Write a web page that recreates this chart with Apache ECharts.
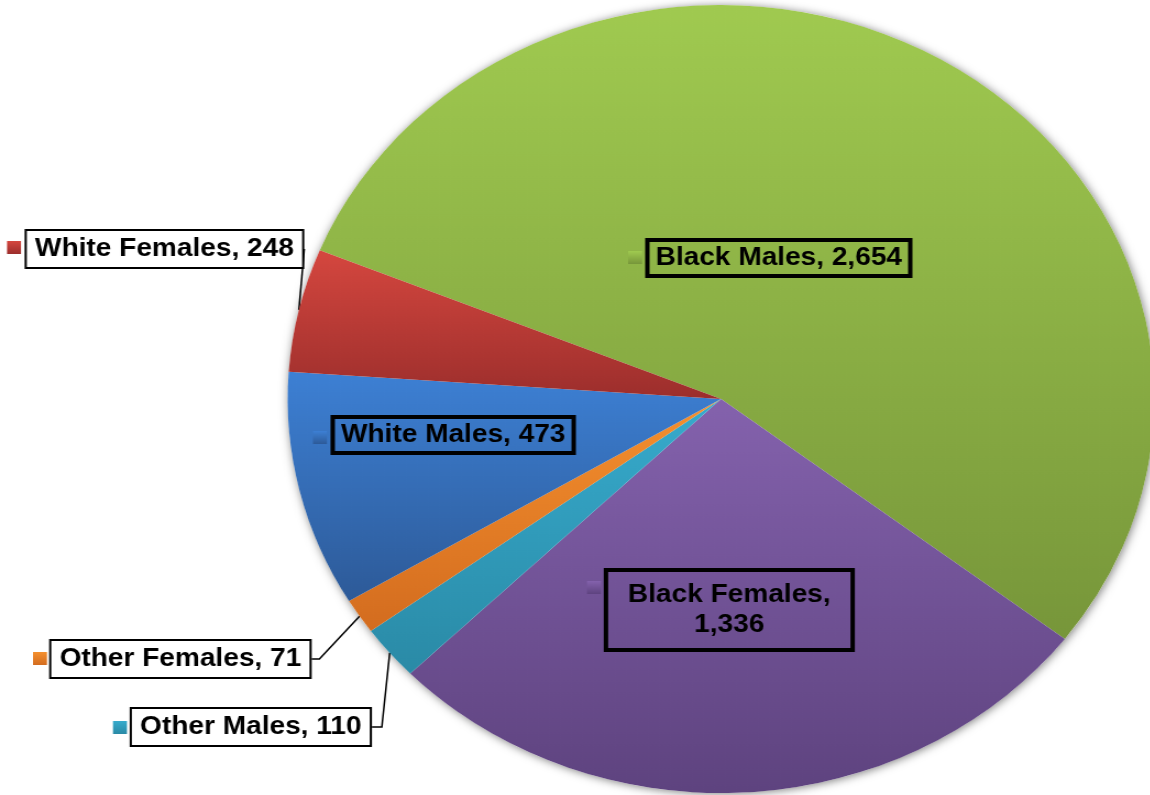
<!DOCTYPE html>
<html>
<head>
<meta charset="utf-8">
<script src="https://cdn.jsdelivr.net/npm/echarts@6/dist/echarts.min.js"></script>
<style>
  html, body { margin: 0; padding: 0; background: #ffffff; overflow: hidden; }
  /* the chart is drawn a little narrower and stretched sideways, so the pie reads as a wide oval */
  #chart { width: 1046px; height: 795px; transform: scaleX(1.1); transform-origin: 0 0; }
</style>
</head>
<body>
<div id="chart"></div>
<script>
// ---- data ----
const categories = ['Black Males', 'Black Females', 'Other Males', 'Other Females', 'White Males', 'White Females'];
const counts = [2654, 1336, 110, 71, 473, 248];

// ---- styling ----
const sliceTop    = ['#a0ca50', '#8462ad', '#37abcd', '#f5902e', '#3d80d4', '#d5473f'];
const sliceBottom = ['#77963a', '#5e437f', '#2a8aa6', '#d36c1f', '#2d5a98', '#9c2e2c'];
const boxFill     = ['transparent', 'transparent', '#ffffff', '#ffffff', 'transparent', '#ffffff'];
const twoLine     = [false, true, false, false, false, false];
const leaderTail  = [null, null, 9, 7, null, 0];   // null: no leader line

// ---- label placement (box centre x / top y, key left x / top y) ----
const boxAt = [[708, 240], [663, 570], [228, 709], [164, 641], [412, 417], [149.5, 231]];
const keyAt = [[571, 251], [533.6, 581], [102.7, 721], [30, 652], [284.5, 431], [6.4, 241]];

const PIE_CENTER = [655.5, 399];
const PIE_RADIUS = 394;
const START_ANGLE = 157.8;
const FONT = '"Liberation Sans", Arial, Helvetica, sans-serif';

function grad(top, bottom) {
  return new echarts.graphic.LinearGradient(0, 0, 0, 1, [
    { offset: 0, color: top },
    { offset: 1, color: bottom }
  ]);
}

function fmtNum(v) {
  return Number(v).toLocaleString('en-US');
}

const sliceData = categories.map((name, i) => ({
  name: name,
  value: counts[i],
  itemStyle: { color: grad(sliceTop[i], sliceBottom[i]) },
  label: twoLine[i]
    ? { backgroundColor: boxFill[i], padding: [10, 20], lineHeight: 30 }
    : { backgroundColor: boxFill[i] },
  labelLine: leaderTail[i] === null
    ? { show: false }
    : { show: true, length: 10, length2: leaderTail[i] }
}));

const keyData = categories.map((name, i) => ({ name: name, value: counts[i] }));

const keyRich = {};
categories.forEach((_, i) => {
  keyRich['k' + i] = { width: 12.7, height: 13, backgroundColor: grad(sliceTop[i], sliceBottom[i]) };
});

const chart = echarts.init(document.getElementById('chart'), null, { renderer: 'canvas' });

chart.setOption({
  animation: false,
  backgroundColor: '#ffffff',
  series: [
    {
      // soft drop shadow under the whole pie
      type: 'pie',
      name: 'shadow',
      silent: true,
      z: 1,
      center: PIE_CENTER,
      radius: PIE_RADIUS,
      label: { show: false },
      labelLine: { show: false },
      itemStyle: {
        color: '#ffffff',
        shadowBlur: 9,
        shadowColor: 'rgba(0,0,0,0.5)',
        shadowOffsetX: 1,
        shadowOffsetY: 1
      },
      data: [{ value: 1, name: '' }]
    },
    {
      type: 'pie',
      name: 'Population',
      silent: true,
      z: 2,
      center: PIE_CENTER,
      radius: PIE_RADIUS,
      startAngle: START_ANGLE,
      clockwise: true,
      avoidLabelOverlap: false,
      itemStyle: { borderWidth: 0 },
      label: {
        show: true,
        position: 'outside',
        color: '#000000',
        fontFamily: FONT,
        fontWeight: 'bold',
        fontSize: 25.5,
        lineHeight: 28,
        align: 'center',
        borderColor: '#000000',
        borderWidth: 2,
        padding: [4, 7.5],
        formatter: function (p) {
          return p.name + (twoLine[p.dataIndex] ? ',\n' : ', ') + fmtNum(p.value);
        }
      },
      labelLine: {
        show: false,
        smooth: false,
        minTurnAngle: 0,
        lineStyle: { color: '#000000', width: 1.5 }
      },
      labelLayout: function (p) {
        const pos = boxAt[p.dataIndex];
        return { x: pos[0], y: pos[1], align: 'center', verticalAlign: 'top' };
      },
      data: sliceData
    },
    {
      // colour keys in front of each label box
      type: 'pie',
      name: 'keys',
      silent: true,
      z: 3,
      center: PIE_CENTER,
      radius: PIE_RADIUS,
      startAngle: START_ANGLE,
      clockwise: true,
      avoidLabelOverlap: false,
      itemStyle: { color: 'rgba(0,0,0,0)', borderWidth: 0 },
      label: {
        show: true,
        position: 'outside',
        formatter: function (p) { return '{k' + p.dataIndex + '|}'; },
        rich: keyRich
      },
      labelLine: { show: false },
      labelLayout: function (p) {
        const pos = keyAt[p.dataIndex];
        return { x: pos[0], y: pos[1], align: 'left', verticalAlign: 'top' };
      },
      data: keyData
    }
  ]
});
</script>
</body>
</html>
